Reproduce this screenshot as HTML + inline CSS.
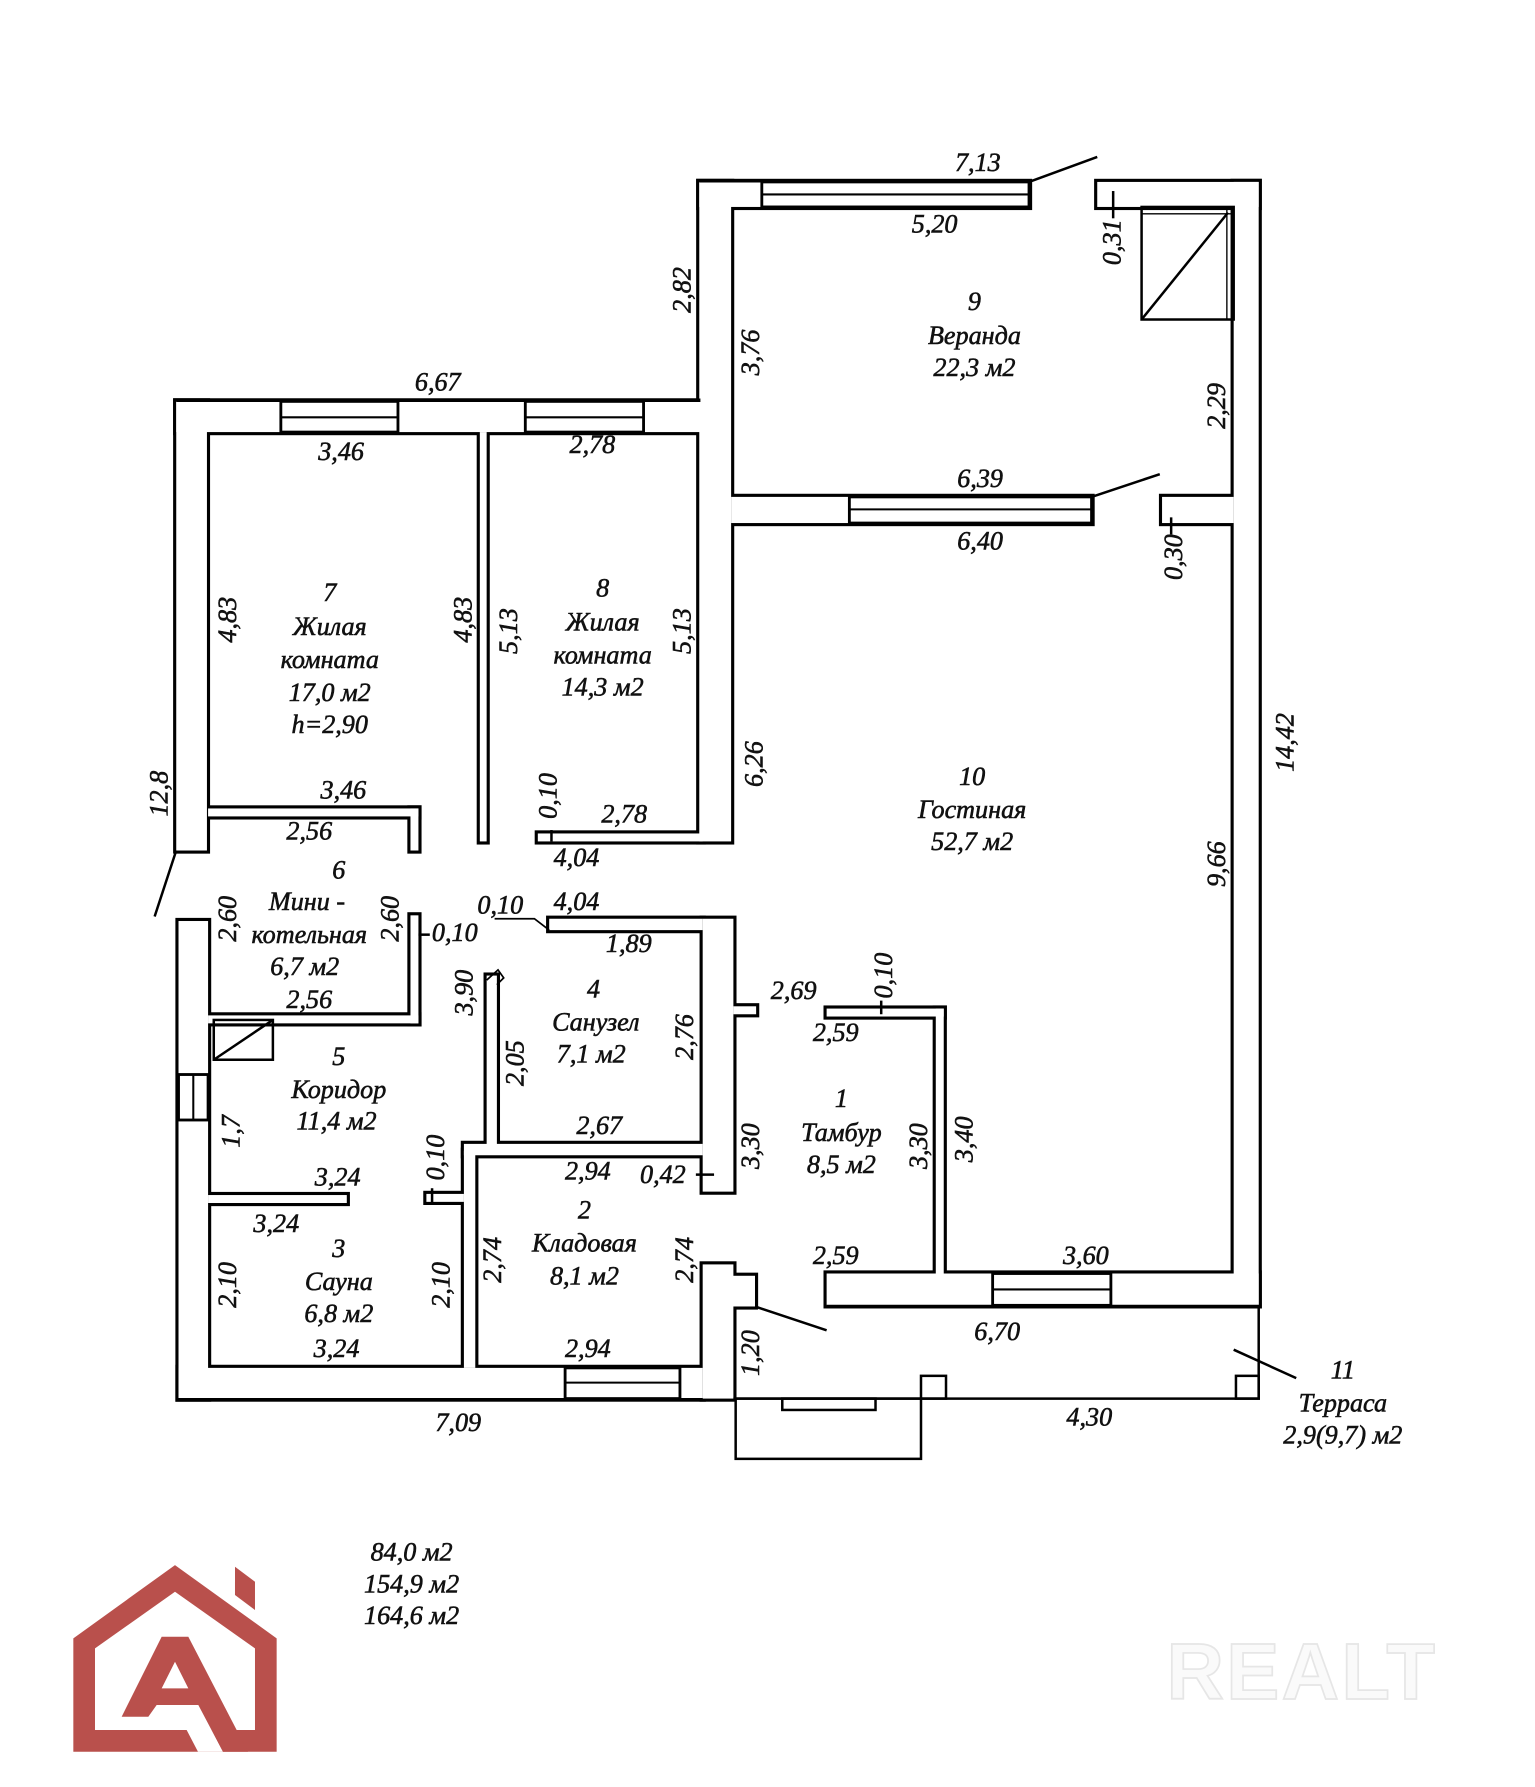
<!DOCTYPE html>
<html><head><meta charset="utf-8">
<style>
html,body{margin:0;padding:0;background:#fff;}
svg{display:block;}
text{font-family:"Liberation Serif","DejaVu Serif",serif;font-style:italic;font-size:23px;fill:#111;stroke:#111;stroke-width:0.5;text-anchor:middle;dominant-baseline:central;}
</style></head>
<body>
<svg width="1535" height="1787" viewBox="0 0 1350 1571.6" preserveAspectRatio="none" xmlns="http://www.w3.org/2000/svg">
<rect x="0" y="0" width="1350" height="1572" fill="#fff"/>
<defs>
<g id="walls">
<rect x="155" y="353" width="461" height="27"/>
<rect x="155" y="353" width="27" height="395"/>
<rect x="615" y="160" width="28" height="580"/>
<rect x="615" y="160" width="290" height="22"/>
<rect x="965" y="160" width="142" height="22"/>
<rect x="1085" y="160" width="22" height="988"/>
<rect x="643" y="437" width="317" height="23"/>
<rect x="1022" y="437" width="63" height="23"/>
<rect x="727" y="1120" width="380" height="28"/>
<rect x="157" y="810" width="26" height="420"/>
<rect x="157" y="1203" width="461" height="27"/>
<rect x="618" y="1112" width="27" height="118"/>
<rect x="640" y="1122" width="24" height="27"/>
<rect x="618" y="808" width="27" height="240"/>
<rect x="422" y="380" width="6" height="360"/>
<rect x="473" y="733" width="145" height="7"/>
<rect x="183" y="711" width="185" height="7"/>
<rect x="361" y="711" width="7" height="37"/>
<rect x="361" y="805" width="7" height="95"/>
<rect x="183" y="893" width="185" height="7"/>
<rect x="183" y="1051" width="122" height="7"/>
<rect x="408" y="1012" width="10" height="191"/>
<rect x="375" y="1050" width="33" height="7"/>
<rect x="408" y="1006" width="210" height="10"/>
<rect x="428" y="858" width="9" height="150"/>
<rect x="483" y="808" width="135" height="10"/>
<rect x="645" y="885" width="20" height="7"/>
<rect x="727" y="887" width="103" height="7"/>
<rect x="823" y="887" width="7" height="233"/>
</g>
</defs>
<use href="#walls" fill="#000" stroke="#000" stroke-width="5.5"/>
<use href="#walls" fill="#fff"/>

<g fill="#fff" stroke="#000" stroke-width="2.5">
<rect x="247" y="353" width="103" height="27"/>
<rect x="462" y="353" width="104" height="27"/>
<rect x="670" y="160" width="235" height="22"/>
<rect x="747" y="437" width="213" height="23"/>
<rect x="873" y="1120" width="104" height="28"/>
<rect x="497" y="1203" width="101" height="27"/>
<rect x="157" y="945" width="26" height="40"/>
</g>
<g stroke="#000" stroke-width="1.8" fill="none">
<line x1="247" y1="367" x2="350" y2="367"/>
<line x1="462" y1="367" x2="566" y2="367"/>
<line x1="670" y1="171" x2="905" y2="171"/>
<line x1="747" y1="448" x2="960" y2="448"/>
<line x1="873" y1="1134" x2="977" y2="1134"/>
<line x1="497" y1="1216" x2="598" y2="1216"/>
<line x1="170" y1="945" x2="170" y2="985"/>
</g>
<!-- restore outer edges over window ends -->
<g stroke="#000" stroke-width="3" fill="none">
<line x1="155" y1="352" x2="616" y2="352"/>
<line x1="615" y1="159" x2="905" y2="159"/>
<line x1="727" y1="1149" x2="1108" y2="1149"/>
<line x1="157" y1="1231" x2="618" y2="1231"/>
</g>

<g stroke="#000" stroke-width="2.2" fill="none">
<line x1="905" y1="160" x2="965" y2="138"/>
<line x1="960" y1="437" x2="1020" y2="417"/>
<line x1="664" y1="1149" x2="727" y2="1170"/>
<line x1="155" y1="748" x2="136" y2="806"/>
<line x1="1085" y1="1187" x2="1140" y2="1212"/>
<polyline points="1107,1148 1107,1230 645,1230"/>
<rect x="810" y="1210" width="22" height="20"/>
<rect x="1087" y="1210" width="20" height="20"/>
<rect x="647" y="1230" width="163" height="53"/>
<rect x="688" y="1230" width="82" height="10"/>
<rect x="1004" y="182" width="81" height="99"/>
<line x1="1004" y1="281" x2="1080" y2="187"/>
<line x1="1079" y1="182" x2="1079" y2="281" stroke-width="1.2"/>
<line x1="1004" y1="188" x2="1085" y2="188" stroke-width="1.2"/>
<rect x="188" y="897" width="52" height="35"/>
<line x1="188" y1="932" x2="240" y2="897"/>
<line x1="979" y1="168" x2="979" y2="192"/>
<line x1="1030" y1="455" x2="1030" y2="470"/>
<line x1="485" y1="730" x2="485" y2="740"/>
<line x1="368" y1="822" x2="378" y2="822"/>
<line x1="380" y1="1045" x2="380" y2="1058"/>
<line x1="612" y1="1033" x2="628" y2="1033"/>
<line x1="775" y1="880" x2="775" y2="892"/>
<polyline points="435,808 470,808 483,818" stroke-width="1.5"/>
<polyline points="428,862 438,853 443,860 437,866" stroke-width="1.5"/>
</g>

<text x="860" y="143">7,13</text>
<text x="822" y="197">5,20</text>
<text transform="translate(600,255) rotate(-90)">2,82</text>
<text transform="translate(660,310) rotate(-90)">3,76</text>
<text x="857" y="265">9</text>
<text x="857" y="295">Веранда</text>
<text x="857" y="323">22,3 м2</text>
<text transform="translate(978,213) rotate(-90)">0,31</text>
<text transform="translate(1070,357) rotate(-90)">2,29</text>
<text x="385" y="336">6,67</text>
<text x="300" y="397">3,46</text>
<text x="521" y="391">2,78</text>
<text x="862" y="421">6,39</text>
<text x="862" y="476">6,40</text>
<text transform="translate(1032,490) rotate(-90)">0,30</text>
<text transform="translate(200,545) rotate(-90)">4,83</text>
<text x="290" y="521">7</text>
<text x="290" y="551">Жилая</text>
<text x="290" y="580">комната</text>
<text x="290" y="609">17,0 м2</text>
<text x="290" y="637">h=2,90</text>
<text transform="translate(407,545) rotate(-90)">4,83</text>
<text transform="translate(447,555) rotate(-90)">5,13</text>
<text x="530" y="517">8</text>
<text x="530" y="547">Жилая</text>
<text x="530" y="576">комната</text>
<text x="530" y="604">14,3 м2</text>
<text transform="translate(600,555) rotate(-90)">5,13</text>
<text transform="translate(663,672) rotate(-90)">6,26</text>
<text x="855" y="683">10</text>
<text x="855" y="712">Гостиная</text>
<text x="855" y="740">52,7 м2</text>
<text transform="translate(1130,653) rotate(-90)">14,42</text>
<text transform="translate(140,698) rotate(-90)">12,8</text>
<text x="302" y="695">3,46</text>
<text x="272" y="731">2,56</text>
<text transform="translate(482,700) rotate(-90)">0,10</text>
<text x="549" y="716">2,78</text>
<text x="507" y="754">4,04</text>
<text x="298" y="765">6</text>
<text x="270" y="793">Мини -</text>
<text x="272" y="822">котельная</text>
<text x="268" y="850">6,7 м2</text>
<text x="272" y="879">2,56</text>
<text transform="translate(200,808) rotate(-90)">2,60</text>
<text transform="translate(343,808) rotate(-90)">2,60</text>
<text x="400" y="820">0,10</text>
<text x="440" y="796">0,10</text>
<text x="507" y="793">4,04</text>
<text x="553" y="830">1,89</text>
<text transform="translate(1070,760) rotate(-90)">9,66</text>
<text transform="translate(408,873) rotate(-90)">3,90</text>
<text transform="translate(453,935) rotate(-90)">2,05</text>
<text x="522" y="870">4</text>
<text x="524" y="899">Санузел</text>
<text x="520" y="927">7,1 м2</text>
<text transform="translate(602,912) rotate(-90)">2,76</text>
<text x="698" y="871">2,69</text>
<text transform="translate(777,858) rotate(-90)">0,10</text>
<text x="735" y="908">2,59</text>
<text x="298" y="929">5</text>
<text x="298" y="958">Коридор</text>
<text x="296" y="986">11,4 м2</text>
<text transform="translate(203,995) rotate(-90)">1,7</text>
<text x="527" y="990">2,67</text>
<text x="740" y="966">1</text>
<text x="740" y="996">Тамбур</text>
<text x="740" y="1024">8,5 м2</text>
<text transform="translate(660,1008) rotate(-90)">3,30</text>
<text transform="translate(808,1008) rotate(-90)">3,30</text>
<text transform="translate(848,1002) rotate(-90)">3,40</text>
<text transform="translate(383,1018) rotate(-90)">0,10</text>
<text x="297" y="1035">3,24</text>
<text x="517" y="1030">2,94</text>
<text x="583" y="1033">0,42</text>
<text x="243" y="1076">3,24</text>
<text x="514" y="1064">2</text>
<text x="514" y="1093">Кладовая</text>
<text x="514" y="1122">8,1 м2</text>
<text transform="translate(433,1108) rotate(-90)">2,74</text>
<text transform="translate(602,1108) rotate(-90)">2,74</text>
<text x="735" y="1104">2,59</text>
<text x="955" y="1104">3,60</text>
<text x="298" y="1098">3</text>
<text x="298" y="1127">Сауна</text>
<text x="298" y="1155">6,8 м2</text>
<text x="296" y="1186">3,24</text>
<text transform="translate(200,1130) rotate(-90)">2,10</text>
<text transform="translate(388,1130) rotate(-90)">2,10</text>
<text x="517" y="1186">2,94</text>
<text x="877" y="1171">6,70</text>
<text transform="translate(660,1190) rotate(-90)">1,20</text>
<text x="1181" y="1205">11</text>
<text x="1181" y="1234">Терраса</text>
<text x="1181" y="1262">2,9(9,7) м2</text>
<text x="403" y="1251">7,09</text>
<text x="958" y="1246">4,30</text>
<text x="362" y="1365">84,0 м2</text>
<text x="362" y="1393">154,9 м2</text>
<text x="362" y="1421">164,6 м2</text>

<text x="1145" y="1470" style="font-family:'Liberation Sans',sans-serif;font-style:normal;font-size:70px;font-weight:bold;fill:#fafafa;stroke:#e6e6e6;stroke-width:1.5;letter-spacing:2px">REALT</text>

<g transform="scale(0.8795) translate(60,1540) scale(0.3333)" fill="#b9504c">
<path fill-rule="evenodd" d="M40,295 L345,75 L650,295 L650,635 L40,635 Z M105,325 L345,155 L585,325 L585,570 L105,570 Z"/>
<polygon points="380,570 455,570 489,635 414,635" fill="#fff"/>
<path fill-rule="evenodd" d="M305,290 L385,290 L530,570 L564,635 L489,635 L415,495 L290,495 L265,530 L185,530 Z M345,365 L385,445 L305,445 Z"/>
<polygon points="525,80 585,125 585,210 525,165"/>
</g>
</svg>
</body></html>
